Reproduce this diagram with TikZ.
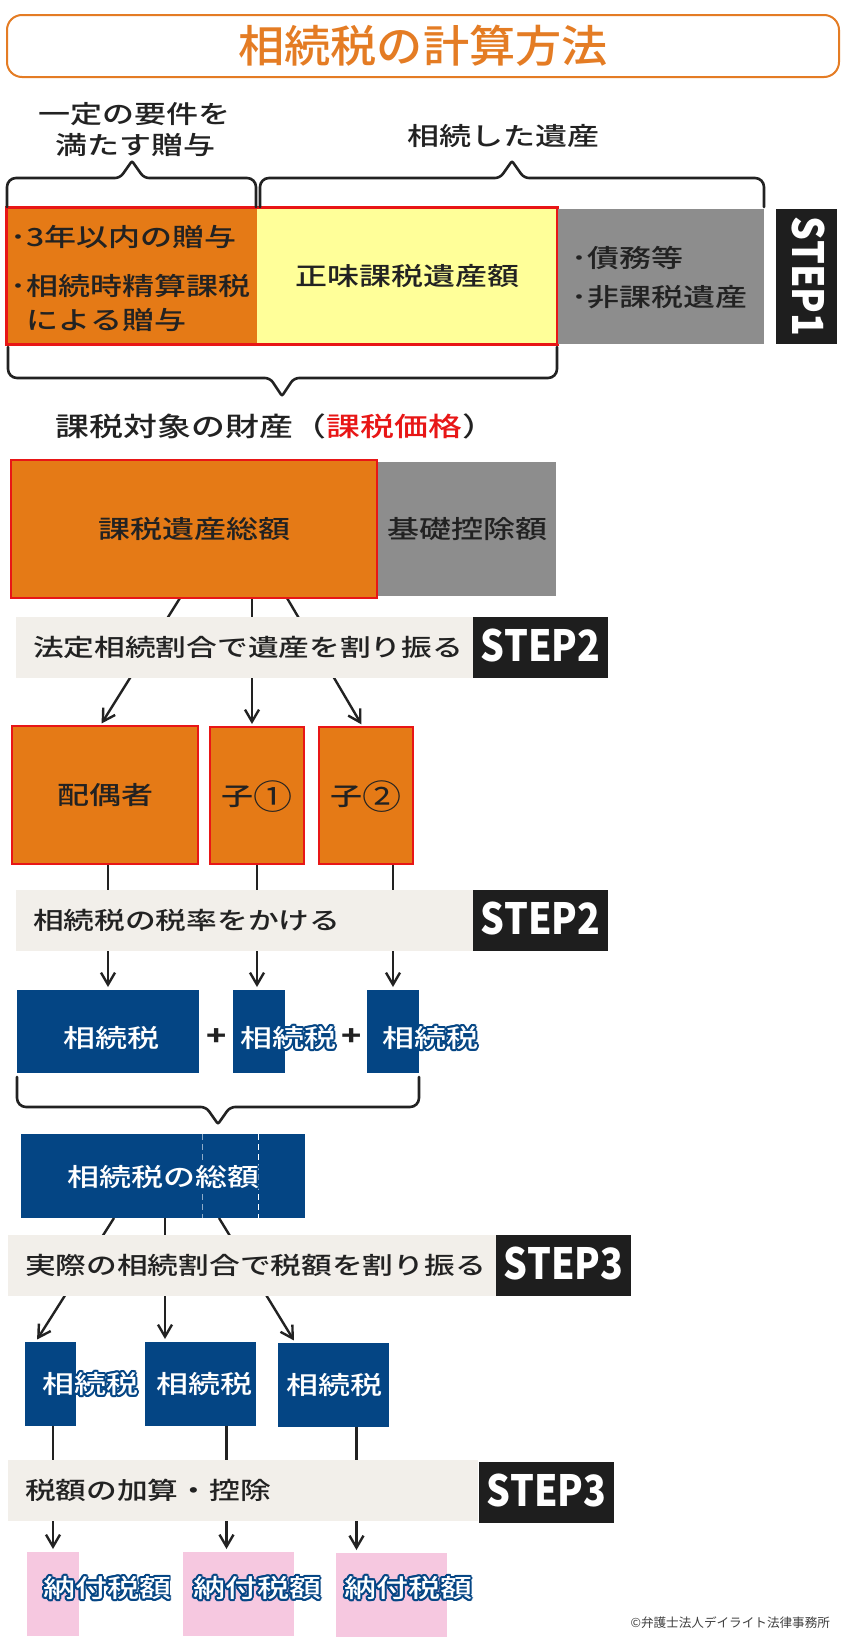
\documentclass[tikz,border=0pt]{standalone}
\usepackage{fontspec}
\IfFontExistsTF{Noto Sans CJK JP Medium}
  {\newfontfamily\jp[FakeStretch=1.28]{Noto Sans CJK JP Medium}
   \newfontfamily\ttlfont[FakeStretch=1.05]{Noto Sans CJK JP Medium}}
  {\newfontfamily\jp[FakeStretch=1.28]{Noto Sans CJK JP}
   \newfontfamily\ttlfont[FakeStretch=1.05]{Noto Sans CJK JP}}
\newfontfamily\stepfont[FakeStretch=0.87]{Noto Sans CJK JP}
\newfontfamily\numfont[FakeStretch=1.15]{Noto Sans CJK JP}
\newfontfamily\cpfont{Noto Sans CJK JP}
\usepackage{tikz}
\usetikzlibrary{arrows.meta,positioning,fit,backgrounds,calc}

\definecolor{ttlor}{RGB}{228,124,36}
\definecolor{orng}{RGB}{229,122,22}
\definecolor{redln}{RGB}{232,22,22}
\definecolor{yel}{RGB}{255,255,153}
\definecolor{gry}{RGB}{141,141,141}
\definecolor{stepblk}{RGB}{30,30,30}
\definecolor{beige}{RGB}{242,239,234}
\definecolor{navy}{RGB}{4,69,132}
\definecolor{pnk}{RGB}{246,200,224}
\definecolor{ink}{RGB}{34,34,34}

% white label with a navy rim
\newcommand\rimlabel[3]{%
  \foreach \ang in {0,30,...,330}
    \node[txt,text=navy] at ($(#2)+(\ang:2)$) {#3};
  \node[txt,text=white] (#1) at (#2) {#3};}
% large circled number
\newcommand\bignum[1]{\raisebox{-4pt}{\numfont\fontsize{34}{34}\selectfont #1}}

\begin{document}
\begin{tikzpicture}[x=1pt,y=-1pt,
  font=\jp\fontsize{25}{30}\selectfont,
  every node/.style={inner sep=0pt,outer sep=0pt,text=ink},
  txt/.style={text height=19pt,text depth=0pt},
  cell/.style={txt,anchor=north west},
  ornbox/.style={cell,fill=orng,draw=redln,line width=2.5pt},
  gbox/.style={cell,fill=gry},
  nbox/.style={cell,fill=navy},
  pbox/.style={cell,fill=pnk},
  band/.style={cell,fill=beige,minimum height=61pt},
  bandtxt/.style={txt,text height=18.2pt,font=\jp\fontsize{24}{28}\selectfont},
  stepbox/.style={fill=stepblk,text=white,minimum width=135pt,minimum height=61pt,
                  text height=28.4pt,text depth=0pt,
                  font=\stepfont\bfseries\fontsize{43}{45}\selectfont},
  plus/.style={txt,font=\jp\bfseries\fontsize{26}{28}\selectfont},
  brc/.style={draw=ink,line width=2.6pt,line cap=round},
  arr/.style={draw=ink,line width=2.4pt,-{Straight Barb[length=12pt,width=14pt]},
              shorten >=3pt}
]
\useasboundingbox (0,0) rectangle (850,1644);

% Title.
\node[cell,draw=ttlor,line width=2pt,rounded corners=15pt,minimum width=832pt,
      minimum height=62pt,text=ttlor,text height=33.4pt,
      font=\ttlfont\fontsize{44}{48}\selectfont]
     (ttl) at (7,15) {相続税の計算方法};

% STEP1: gifts + inherited estate.
\node[txt] (gifthd1) at (134,114) {一定の要件を};
\node[txt] (gifthd2) at (135,145) {満たす贈与};
\node[txt] (inherhd) at (503,136) {相続した遺産};

\node[cell,fill=orng,minimum width=250pt,minimum height=137pt] (gift) at (6.5,207) {};
\node[cell,fill=yel,minimum width=301pt,minimum height=137pt,right=0pt of gift]
     (net) {正味課税遺産額};
\node[fit=(gift)(net),draw=redln,line width=3pt] (taxable) {};
\node[gbox,minimum width=206pt,minimum height=135pt] (debt) at (558,209) {};
\node[stepbox,rotate=-90] (step1) at (806.5,276.5) {STEP1};

\node[txt,anchor=west] (gift1) at (10.5,237) {･3年以内の贈与};
\node[txt,anchor=west] (gift2) at (10.5,286) {･相続時精算課税};
\node[txt,anchor=west] (gift3) at (27,320) {による贈与};
\node[txt,anchor=west] (debt1) at (571,258) {･債務等};
\node[txt,anchor=west] (debt2) at (571,297) {･非課税遺産};

\draw[brc] (7,207) [rounded corners=9pt] -- (7,178) [rounded corners=5pt] -- (120,178)
  [rounded corners=2pt] -- (132,161) [rounded corners=5pt] -- (144,178)
  [rounded corners=9pt] -- (256,178) -- (256,207);
\draw[brc] (260,207) [rounded corners=9pt] -- (260,178) [rounded corners=5pt] -- (500,178)
  [rounded corners=2pt] -- (512,161) [rounded corners=5pt] -- (524,178)
  [rounded corners=9pt] -- (764,178) -- (764,207);
\draw[brc] (8,347) [rounded corners=9pt] -- (8,378) [rounded corners=5pt] -- (270,378)
  [rounded corners=2pt] -- (282,396) [rounded corners=5pt] -- (294,378)
  [rounded corners=9pt] -- (557,378) -- (557,347);

\node[txt,text height=20.1pt,font=\jp\fontsize{26.5}{30}\selectfont] (taxval) at (276,426)
     {課税対象の財産（\textcolor{redln}{課税価格}）};

% STEP2: split by statutory shares, apply rates.
\node[ornbox,line width=1.5pt,minimum width=366pt,minimum height=138pt] (tot) at (11,460) {課税遺産総額};
\node[gbox,minimum width=178pt,minimum height=134pt] (basic) at (378,462) {基礎控除額};

\node[band,minimum width=457pt] (band1) at (16,617) {};
\node[bandtxt,right=17pt of band1.west] (band1t) {法定相続割合で遺産を割り振る};
\node[stepbox,right=0pt of band1] (step2a) {STEP2};

\node[ornbox,minimum width=186pt,minimum height=138pt] (spouse) at (12,726) {配偶者};
\node[ornbox,minimum width=94pt,minimum height=137pt] (child1) at (210,727) {子\bignum{①}};
\node[ornbox,minimum width=94pt,minimum height=137pt] (child2) at (319,727) {子\bignum{②}};

\node[band,minimum width=457pt] (band2) at (16,890) {};
\node[bandtxt,right=17pt of band2.west] (band2t) {相続税の税率をかける};
\node[stepbox,right=0pt of band2] (step2b) {STEP2};

\node[nbox,minimum width=182pt,minimum height=83pt] (tax1) at (17,990) {};
\node[nbox,minimum width=52pt,minimum height=83pt] (tax2) at (233,990) {};
\node[nbox,minimum width=52pt,minimum height=83pt] (tax3) at (367,990) {};
\rimlabel{tax1t}{111,1038}{相続税}
\rimlabel{tax2t}{288,1038}{相続税}
\rimlabel{tax3t}{430,1038}{相続税}
\node[plus] (plus1) at (217,1036) {+};
\node[plus] (plus2) at (352,1036) {+};

\draw[brc] (17,1077) [rounded corners=9pt] -- (17,1107) [rounded corners=5pt] -- (206,1107)
  [rounded corners=2pt] -- (218,1124) [rounded corners=5pt] -- (230,1107)
  [rounded corners=9pt] -- (419,1107) -- (419,1077);

\node[nbox,minimum width=284pt,minimum height=84pt] (taxsum) at (21,1134) {};
\draw[white!55!navy,line width=1pt,dash pattern=on 6pt off 4pt]
  ([xshift=181pt]taxsum.north west) -- ([xshift=181pt]taxsum.south west);
\draw[white,line width=1pt,dash pattern=on 6pt off 4pt]
  ([xshift=237pt]taxsum.north west) -- ([xshift=237pt]taxsum.south west);
\rimlabel{taxsumt}{163,1177}{相続税の総額}

% STEP3: split by actual shares, add/deduct.
\node[band,minimum width=488pt] (band3) at (8,1235) {};
\node[bandtxt,right=17pt of band3.west] (band3t) {実際の相続割合で税額を割り振る};
\node[stepbox,right=0pt of band3] (step3a) {STEP3};

\node[nbox,minimum width=51pt,minimum height=84pt] (share1) at (25,1342) {};
\node[nbox,minimum width=111pt,minimum height=84pt] (share2) at (145,1342) {};
\node[nbox,minimum width=111pt,minimum height=84pt] (share3) at (278,1343) {};
\rimlabel{share1t}{90,1384}{相続税}
\rimlabel{share2t}{204,1384}{相続税}
\rimlabel{share3t}{334,1385}{相続税}

\node[band,minimum width=470pt] (band4) at (8,1460) {};
\node[bandtxt,right=17pt of band4.west] (band4t) {税額の加算・控除};
\node[stepbox,right=1pt of band4,yshift=-2pt] (step3b) {STEP3};

\node[pbox,minimum width=52pt,minimum height=84pt] (pay1) at (27,1552) {};
\node[pbox,minimum width=111pt,minimum height=84pt] (pay2) at (183,1552) {};
\node[pbox,minimum width=111pt,minimum height=84pt] (pay3) at (336,1553) {};
\rimlabel{pay1t}{107,1588}{納付税額}
\rimlabel{pay2t}{257,1588}{納付税額}
\rimlabel{pay3t}{408,1588}{納付税額}

\node[txt,anchor=east,text height=9.6pt,text=black!75,font=\cpfont\fontsize{12.6}{14}\selectfont]
     (copyr) at (830,1623) {©弁護士法人デイライト法律事務所};

% Arrows run behind the grey bands.
\begin{scope}[on background layer]
  \fill[white] (0,0) rectangle (850,1644);
  \draw[arr] ([xshift=-14pt]tot.south) -- ([xshift=-5pt]spouse.north);
  \draw[arr] ([xshift=58pt]tot.south) -- ([xshift=58pt]tot.south |- child1.north);
  \draw[arr] ([xshift=93pt]tot.south) -- ([xshift=-3pt]child2.north);
  \draw[arr] (spouse.south -| tax1.north) -- (tax1.north);
  \draw[arr] (child1.south) -- (child1.south |- tax2.north);
  \draw[arr] (child2.south -| tax3.north) -- (tax3.north);
  \draw[arr] ([xshift=-49pt]taxsum.south) -- ([xshift=-15pt]share1.north);
  \draw[arr] ([xshift=2pt]taxsum.south) -- ([xshift=2pt]taxsum.south |- share2.north);
  \draw[arr] ([xshift=56pt]taxsum.south) -- ([xshift=-38pt]share3.north);
  \draw[arr] (share1.south -| pay1.north) -- (pay1.north);
  \draw[arr] ([xshift=26pt]share2.south) -- ([xshift=26pt]share2.south |- pay2.north);
  \draw[arr] ([xshift=23pt]share3.south) -- ([xshift=23pt]share3.south |- pay3.north);
\end{scope}
\end{tikzpicture}
\end{document}
